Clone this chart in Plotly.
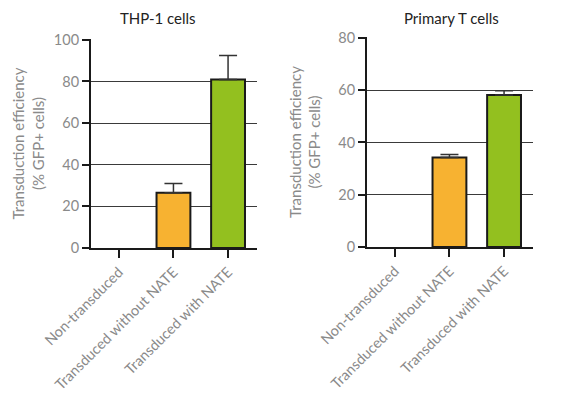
import plotly.graph_objects as go

categories = ["Non-transduced", "Transduced without NATE", "Transduced with NATE"]
thp1_values = [0, 26.5, 81]
thp1_err = [0, 4.5, 11.5]
tcell_values = [0, 34.2, 58.2]
tcell_err = [0, 1.2, 1.6]
bar_colors = ["#FFFFFF", "#F7B231", "#93C01F"]
thp1_ticks = [0, 20, 40, 60, 80, 100]
tcell_ticks = [0, 20, 40, 60, 80]
titles = ["THP-1 cells", "Primary T cells"]
ytitle = "Transduction efficiency<br>(% GFP+ cells)"

FONT = "Lato"
GRAY = "#8a8a8a"
W, H = 557, 389  # page body has an 8px margin

fig = go.Figure()

for i, (vals, errs) in enumerate([(thp1_values, thp1_err), (tcell_values, tcell_err)]):
    xa = "x" if i == 0 else "x2"
    ya = "y" if i == 0 else "y2"
    shown = [v if v > 0 else None for v in vals]
    fig.add_trace(go.Bar(
        x=categories, y=shown, xaxis=xa, yaxis=ya,
        marker=dict(color=bar_colors, line=dict(color="#1a1a1a", width=2)),
        width=0.62,
        error_y=dict(type="data", array=errs, symmetric=False, arrayminus=[0, 0, 0],
                     color="#333333", thickness=1.5, width=9),
        showlegend=False,
    ))

common_x = dict(
    type="category", range=[-0.51, 2.53], showline=True, linecolor="#1a1a1a", linewidth=2,
    ticks="outside", ticklen=8, tickwidth=2, tickcolor="#1a1a1a", tickangle=-45,
    tickfont=dict(family=FONT, size=14.5, color=GRAY), showgrid=False, zeroline=False,
    fixedrange=True, automargin=False,
)
common_y = dict(
    showline=True, linecolor="#1a1a1a", linewidth=2, ticks="outside", ticklen=7,
    tickwidth=2, tickcolor="#1a1a1a", tickfont=dict(family=FONT, size=14.5, color=GRAY),
    showgrid=True, gridcolor="#3a3a3a", gridwidth=1, zeroline=False, automargin=False,
)

fig.update_layout(
    width=W, height=H,
    margin=dict(l=0, r=0, t=0, b=0),
    paper_bgcolor="white", plot_bgcolor="white",
    xaxis=dict(common_x, domain=[83/W, 249/W], anchor="y"),
    xaxis2=dict(common_x, domain=[359/W, 525/W], anchor="y2"),
    yaxis=dict(common_y, domain=[1-240/H, 1-31/H], range=[0, 100.4], tickvals=thp1_ticks, anchor="x",
               title=dict(text=ytitle, font=dict(family=FONT, size=15, color=GRAY), standoff=6)),
    yaxis2=dict(common_y, domain=[1-239/H, 1-29/H], range=[0, 80.35], tickvals=tcell_ticks, anchor="x2",
                title=dict(text=ytitle, font=dict(family=FONT, size=15, color=GRAY), standoff=14)),
    annotations=[
        dict(text=titles[0], x=150/W, y=1, xref="paper", yref="paper", borderpad=0,
             showarrow=False, font=dict(family=FONT, size=15, color="#222222"), xanchor="center", yanchor="top"),
        dict(text=titles[1], x=443/W, y=1, xref="paper", yref="paper", borderpad=0,
             showarrow=False, font=dict(family=FONT, size=15, color="#222222"), xanchor="center", yanchor="top"),
    ],
)

fig.write_html("out.html")
